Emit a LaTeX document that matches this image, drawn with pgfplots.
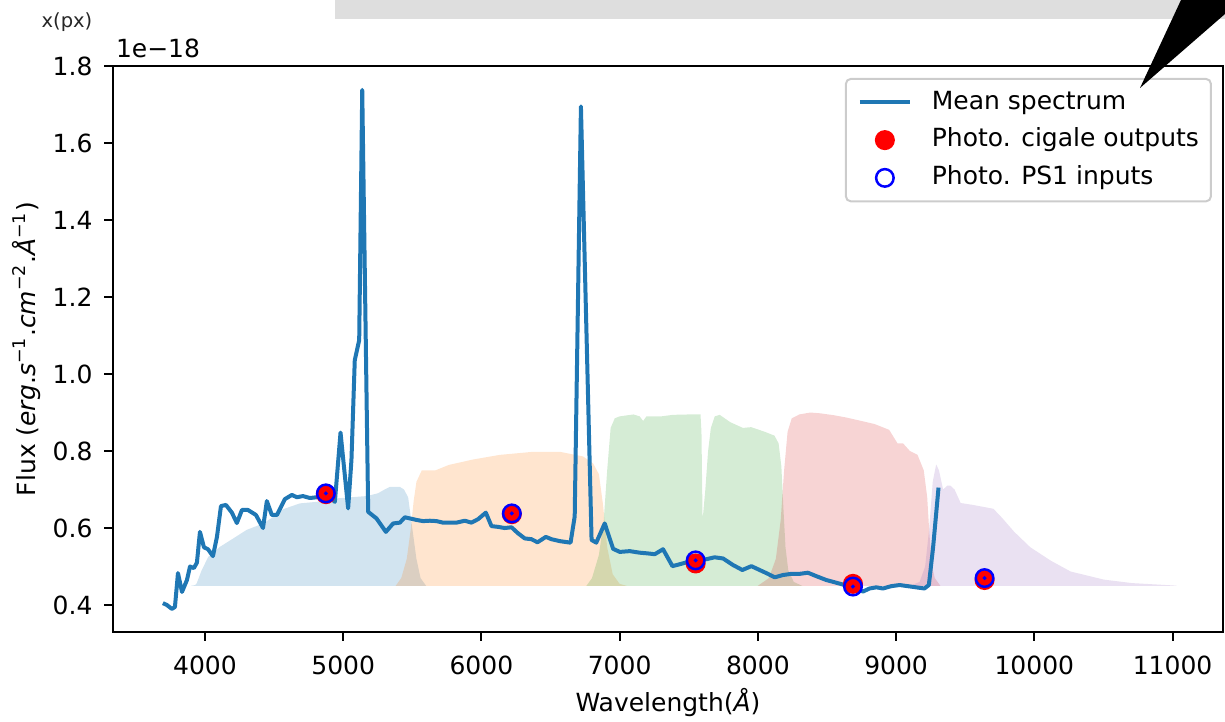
\documentclass[border=0pt]{standalone}
\usepackage{fontspec}
\setmainfont{DejaVu Sans}
\usepackage{pgfplots}
\pgfplotsset{compat=1.18}
\definecolor{C0}{HTML}{1F77B4}
\definecolor{C1}{HTML}{FF7F0E}
\definecolor{C2}{HTML}{2CA02C}
\definecolor{C3}{HTML}{D62728}
\definecolor{C4}{HTML}{9467BD}
\pgfplotsset{
  lineleg/.style={legend image code/.code={\draw[##1] (0pt,0pt) -- (20pt,0pt);}},
  markleg/.style={legend image code/.code={\draw[##1, fill opacity=1] plot coordinates {(10pt,0pt)};}},
}
\begin{document}
\begin{tikzpicture}
\useasboundingbox (0pt,0pt) rectangle (490pt,288.8pt);
\fill[black!13] (134pt,281.2pt) rectangle (490pt,288.8pt);
\node[font=\fontsize{7.8}{9}\selectfont, text=black!85] at (26.8pt,280pt) {x(px)};
\begin{axis}[
  name=ax,
  at={(45.2pt,36pt)}, anchor=south west,
  scale only axis, width=444pt, height=226.4pt,
  xmin=3335, xmax=11365, ymin=0.33, ymax=1.80,
  xtick={4000,5000,6000,7000,8000,9000,10000,11000},
  ytick={0.4,0.6,0.8,1.0,1.2,1.4,1.6,1.8},
  scaled x ticks=false, scaled y ticks=false,
  /pgf/number format/assume math mode=true,
  x tick label style={/pgf/number format/set thousands separator={}},
  y tick label style={/pgf/number format/fixed, /pgf/number format/fixed zerofill, /pgf/number format/precision=1},
  tick label style={font=\fontsize{10}{12}\selectfont},
  tick align=outside, tick pos=left,
  major tick length=3.5pt,
  every tick/.style={black, line width=0.8pt},
  axis line style={line width=0.8pt},
  xticklabel style={yshift=-2.4pt},
  yticklabel style={xshift=-1.2pt},
  xlabel={Wavelength(\textit{Å})},
  every axis x label/.style={at={(axis description cs:0.5,0)}, anchor=base, yshift=-32pt, font=\fontsize{10}{12}\selectfont},
  ylabel={Flux (\textit{erg}.\textit{s}\textsuperscript{−1}.\textit{cm}\textsuperscript{−2}.\textit{Å}\textsuperscript{−1})},
  every axis y label/.style={at={(axis description cs:0,0.5)}, xshift=-31.2pt, rotate=90, anchor=base, font=\fontsize{10}{12}\selectfont},
  legend cell align=left,
  legend style={at={(0.990,0.979)}, anchor=north east, draw=black!20, line width=0.8pt,
    rounded corners=2pt, fill=white, fill opacity=0.8, draw opacity=1, text opacity=1,
    inner xsep=4.8pt, inner ysep=4.5pt, row sep=5.3pt, column sep=8pt,
    font=\fontsize{10}{12}\selectfont,
    nodes={inner sep=0pt, text height=7.6pt, text depth=2.2pt}},
]
% filter transmissions (scaled, baseline 0.45)
\addplot[fill=C0, fill opacity=0.2, draw=none, forget plot] coordinates {
(3900,0.45) (3930,0.452) (3940,0.456) (3976,0.49) (4024,0.525) (4108,0.551) (4205,0.573)
(4301,0.595) (4422,0.612) (4500,0.63) (4566,0.649) (4687,0.664) (4808,0.668) (4952,0.677)
(5169,0.683) (5250,0.69) (5300,0.70) (5338,0.707) (5410,0.707) (5440,0.70) (5470,0.68)
(5500,0.60) (5530,0.52) (5560,0.47) (5600,0.45)} -- cycle;
\addplot[fill=C1, fill opacity=0.2, draw=none, forget plot] coordinates {
(5380,0.45) (5420,0.47) (5460,0.52) (5490,0.60) (5510,0.67) (5530,0.72) (5569,0.75)
(5669,0.75) (5765,0.764) (5940,0.778) (6133,0.79) (6374,0.798) (6567,0.798) (6735,0.786)
(6808,0.768) (6850,0.74) (6880,0.66) (6910,0.55) (6950,0.48) (7000,0.455) (7050,0.45)} -- cycle;
\addplot[fill=C2, fill opacity=0.2, draw=none, forget plot] coordinates {
(6760,0.45) (6800,0.47) (6850,0.53) (6885,0.62) (6910,0.75) (6935,0.86) (6965,0.885)
(7000,0.89) (7100,0.895) (7145,0.89) (7170,0.878) (7194,0.89) (7241,0.89) (7300,0.89)
(7386,0.894) (7500,0.895) (7585,0.895) (7592,0.85) (7600,0.62) (7620,0.70) (7640,0.80)
(7660,0.86) (7688,0.89) (7724,0.894) (7800,0.875) (7892,0.86) (7951,0.862) (8050,0.85)
(8120,0.84) (8150,0.82) (8170,0.76) (8185,0.65) (8200,0.55) (8220,0.49) (8260,0.46) (8320,0.45)} -- cycle;
\addplot[fill=C3, fill opacity=0.2, draw=none, forget plot] coordinates {
(8000,0.45) (8080,0.47) (8130,0.52) (8165,0.62) (8190,0.75) (8215,0.85) (8245,0.885)
(8300,0.895) (8380,0.90) (8450,0.898) (8550,0.893) (8640,0.887) (8750,0.878) (8845,0.87)
(8950,0.855) (9010,0.82) (9050,0.82) (9100,0.80) (9155,0.79) (9200,0.75) (9225,0.68)
(9240,0.59) (9260,0.50) (9280,0.47) (9320,0.45)} -- cycle;
\addplot[fill=C4, fill opacity=0.2, draw=none, forget plot] coordinates {
(9100,0.45) (9170,0.46) (9210,0.50) (9240,0.60) (9265,0.72) (9290,0.765) (9310,0.75)
(9340,0.70) (9370,0.71) (9393,0.71) (9423,0.70) (9467,0.665) (9556,0.66) (9630,0.655)
(9704,0.65) (9765,0.627) (9855,0.59) (9971,0.55) (10120,0.515) (10263,0.487)
(10504,0.466) (10706,0.457) (11000,0.451) (11030,0.45)} -- cycle;
% mean spectrum
\addplot[C0, line width=1.6pt, line join=round, lineleg] coordinates {
(3696,0.405) (3725,0.400) (3761,0.390) (3783,0.395) (3805,0.483) (3834,0.434) (3870,0.465)
(3892,0.500) (3920,0.496) (3942,0.510) (3964,0.590) (3993,0.550) (4022,0.545) (4058,0.527)
(4087,0.577) (4116,0.657) (4152,0.660) (4195,0.640) (4231,0.613) (4268,0.647) (4311,0.647)
(4369,0.634) (4420,0.600) (4448,0.670) (4484,0.634) (4521,0.634) (4578,0.675) (4629,0.686)
(4665,0.680) (4709,0.683) (4759,0.678) (4810,0.680) (4870,0.690) (4940,0.668) (4981,0.848)
(5036,0.651) (5060,0.777) (5084,1.036) (5116,1.088) (5138,1.738) (5181,0.642) (5241,0.625)
(5309,0.590) (5362,0.612) (5410,0.614) (5446,0.628) (5482,0.625) (5531,0.621) (5578,0.618)
(5627,0.619) (5675,0.618) (5723,0.614) (5771,0.614) (5820,0.614) (5880,0.619) (5928,0.614)
(5976,0.623) (6032,0.640) (6073,0.605) (6121,0.603) (6169,0.600) (6218,0.602) (6266,0.586)
(6314,0.573) (6362,0.571) (6406,0.563) (6466,0.577) (6507,0.571) (6567,0.566) (6645,0.562)
(6675,0.630) (6720,1.695) (6797,0.569) (6831,0.562) (6892,0.612) (6953,0.546) (7001,0.538)
(7073,0.540) (7145,0.536) (7206,0.534) (7254,0.532) (7314,0.545) (7382,0.501) (7435,0.506)
(7495,0.512) (7555,0.516) (7627,0.519) (7687,0.524) (7748,0.521) (7820,0.504) (7888,0.491)
(7953,0.501) (8013,0.491) (8073,0.481) (8122,0.472) (8182,0.478) (8242,0.481) (8302,0.481)
(8362,0.484) (8423,0.475) (8495,0.465) (8567,0.458) (8628,0.452) (8688,0.447) (8760,0.435)
(8808,0.443) (8857,0.446) (8905,0.443) (8965,0.449) (9025,0.452) (9085,0.449) (9145,0.446)
(9205,0.443) (9237,0.452) (9268,0.551) (9307,0.705)};
\addlegendentry{Mean spectrum}
% cigale outputs
\addplot[only marks, mark=*, mark size=3.5pt, color=red, mark options={line width=1pt}, markleg] coordinates {
(4875,0.688) (6220,0.636) (7550,0.508) (8688,0.455) (9640,0.465)};
\addlegendentry{Photo. cigale outputs}
% PS1 inputs
\addplot[only marks, mark=o, mark size=3.5pt, color=blue, mark options={line width=1pt}, markleg] coordinates {
(4875,0.690) (6220,0.638) (7550,0.516) (8688,0.448) (9640,0.470)};
\addlegendentry{Photo. PS1 inputs}
\addplot[only marks, mark=*, mark size=0.6pt, color=blue, forget plot] coordinates {
(4875,0.690) (6220,0.638) (7550,0.516) (8688,0.448) (9640,0.470)};
\end{axis}
\node[anchor=base west, font=\fontsize{10}{12}\selectfont, inner sep=0pt] at ([xshift=1pt, yshift=3.2pt]ax.north west) {1e−18};
\fill[black] (472.4pt,288.8pt) -- (490pt,288.8pt) -- (490pt,283.2pt) -- (456pt,253.6pt) -- cycle;
\end{tikzpicture}
\end{document}
